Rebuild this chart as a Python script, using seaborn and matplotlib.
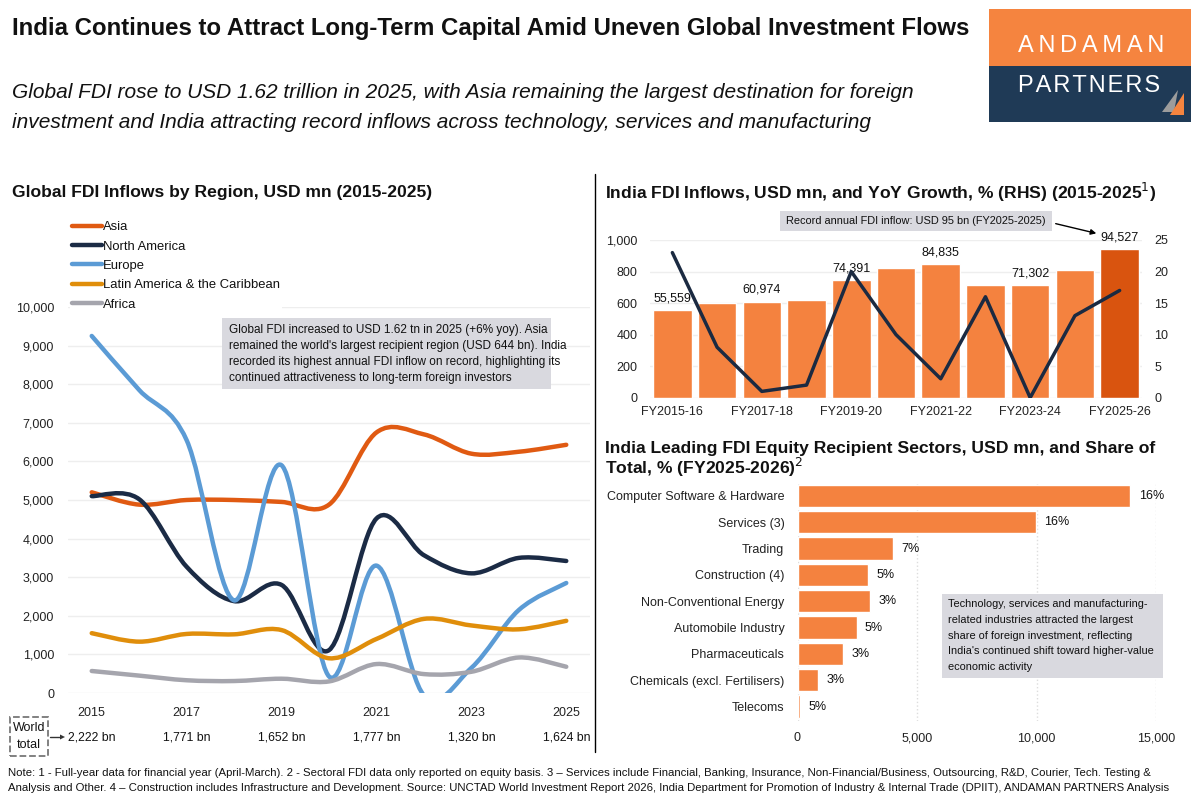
import numpy as np
import pandas as pd
import seaborn as sns
import matplotlib.pyplot as plt
from matplotlib.path import Path
from matplotlib.patches import PathPatch, Rectangle, Polygon
from matplotlib.lines import Line2D
from matplotlib.ticker import FuncFormatter

# ---- dados ----
years = [2015, 2016, 2017, 2018, 2019, 2020, 2021, 2022, 2023, 2024, 2025]
asia = [5200, 4880, 5000, 5000, 4950, 4880, 6750, 6700, 6200, 6250, 6430]
north_america = [5100, 5020, 3270, 2380, 2800, 1110, 4520, 3570, 3100, 3500, 3420]
europe = [9250, 7850, 6550, 2400, 5900, 430, 3300, -60, 650, 2150, 2850]
latin_america = [1550, 1330, 1530, 1520, 1630, 900, 1400, 1920, 1750, 1650, 1870]
africa = [570, 450, 330, 310, 370, 300, 750, 490, 550, 920, 680]
world_years = [2015, 2017, 2019, 2021, 2023, 2025]
world_total = ['2,222 bn', '1,771 bn', '1,652 bn', '1,777 bn', '1,320 bn', '1,624 bn']

fy = ['FY2015-16', 'FY2016-17', 'FY2017-18', 'FY2018-19', 'FY2019-20', 'FY2020-21',
      'FY2021-22', 'FY2022-23', 'FY2023-24', 'FY2024-25', 'FY2025-26']
india_inflows = [55559, 60220, 60974, 62001, 74391, 81973, 84835, 71355, 71302, 81040, 94527]
yoy_growth = [23, 8, 1, 2, 20, 10, 3, 16, 0, 13, 17]
labelled_fy = [0, 2, 4, 6, 8, 10]

sectors = ['Computer Software & Hardware', 'Services (3)', 'Trading', 'Construction (4)',
           'Non-Conventional Energy', 'Automobile Industry', 'Pharmaceuticals',
           'Chemicals (excl. Fertilisers)', 'Telecoms']
sector_values = [13930, 9980, 3980, 2960, 3030, 2470, 1910, 855, 100]
sector_share = ['16%', '16%', '7%', '5%', '3%', '5%', '3%', '3%', '5%']

# ---- cores ----
ORANGE = '#F4823F'
DARK_ORANGE = '#D9540F'
NAVY = '#1B2A41'
BOX = '#D9D9DF'
GRID = '#EEEEEE'
region_colors = {
    'Asia': '#E05A12',
    'North America': '#1B2B45',
    'Europe': '#5B9BD5',
    'Latin America & the Caribbean': '#E08E0B',
    'Africa': '#A5A5AD',
}
regions = {
    'Asia': asia,
    'North America': north_america,
    'Europe': europe,
    'Latin America & the Caribbean': latin_america,
    'Africa': africa,
}

sns.set_theme(style='white')
plt.rcParams['font.family'] = ['Liberation Sans', 'DejaVu Sans']
plt.rcParams['text.color'] = '#111111'
plt.rcParams['xtick.color'] = '#222222'
plt.rcParams['ytick.color'] = '#222222'

TICK = 9.0
W, H = 1200, 800
fig = plt.figure(figsize=(12, 8), dpi=100)


def fx(x):
    return x / W


def fy_(y):
    return 1 - y / H


def ax_rect(x0, y0, x1, y1):
    return [fx(x0), fy_(y1), (x1 - x0) / W, (y1 - y0) / H]


def add_box(x0, y0, x1, y1, color, **kw):
    fig.patches.append(Rectangle((fx(x0), fy_(y1)), (x1 - x0) / W, (y1 - y0) / H,
                                 transform=fig.transFigure, facecolor=color, **kw))


def smooth_path(x, y):
    # curva suavizada (estilo Excel) por segmentos de Bézier
    n = len(x)
    verts = [(x[0], y[0])]
    codes = [Path.MOVETO]
    for i in range(n - 1):
        a = max(i - 1, 0)
        b = min(i + 2, n - 1)
        c1 = (x[i] + (x[i + 1] - x[a]) / 6, y[i] + (y[i + 1] - y[a]) / 6)
        c2 = (x[i + 1] - (x[b] - x[i]) / 6, y[i + 1] - (y[b] - y[i]) / 6)
        verts += [c1, c2, (x[i + 1], y[i + 1])]
        codes += [Path.CURVE4] * 3
    return Path(verts, codes)


# ---- cabeçalho ----
fig.text(fx(12), fy_(28), 'India Continues to Attract Long-Term Capital Amid Uneven Global Investment Flows',
         fontsize=17.3, fontweight='bold', va='center', ha='left')
fig.text(fx(12), fy_(92), 'Global FDI rose to USD 1.62 trillion in 2025, with Asia remaining the largest destination for foreign',
         fontsize=15, style='italic', va='center', ha='left')
fig.text(fx(12), fy_(123), 'investment and India attracting record inflows across technology, services and manufacturing',
         fontsize=15, style='italic', va='center', ha='left')

# logo
add_box(989, 9, 1191, 66, '#F5843F', edgecolor='none')
add_box(989, 66, 1191, 122, '#1F3A56', edgecolor='none')
fig.text(fx(1091), fy_(46), '\u2009'.join('ANDAMAN'), fontsize=17, color='white', ha='center', va='center',
         family=['Liberation Sans', 'DejaVu Sans'])
fig.text(fx(1089), fy_(86), '\u200a'.join('PARTNERS'), fontsize=17, color='white', ha='center', va='center',
         family=['Liberation Sans', 'DejaVu Sans'])
fig.patches.append(Polygon([(fx(1162), fy_(112)), (fx(1178), fy_(90)), (fx(1174), fy_(112))],
                           closed=True, transform=fig.transFigure, facecolor='#9C9C9C', edgecolor='none'))
fig.patches.append(Polygon([(fx(1170), fy_(115)), (fx(1184), fy_(93)), (fx(1184), fy_(115))],
                           closed=True, transform=fig.transFigure, facecolor='#F5843F', edgecolor='none'))

# divisória
fig.add_artist(Line2D([fx(595), fx(595)], [fy_(174), fy_(752)], color='black', lw=1))

# ---- gráfico 1: FDI global por região ----
fig.text(fx(12), fy_(192), 'Global FDI Inflows by Region, USD mn (2015-2025)',
         fontsize=12.6, fontweight='bold', va='center', ha='left')
ax1 = fig.add_axes(ax_rect(68, 307, 590, 693))
ax1.set_xlim(2014.5, 2025.5)
ax1.set_ylim(0, 10000)
ax1.set_yticks(range(0, 10001, 1000))
ax1.yaxis.set_major_formatter(FuncFormatter(lambda v, p: f'{v:,.0f}'))
ax1.set_xticks(world_years)
ax1.tick_params(axis='both', length=0, labelsize=TICK)
ax1.tick_params(axis='y', pad=10)
ax1.tick_params(axis='x', pad=10)
ax1.grid(axis='y', color=GRID, lw=1)
for s in ax1.spines.values():
    s.set_visible(False)
handles = []
for name, vals in regions.items():
    ax1.add_patch(PathPatch(smooth_path(years, vals), facecolor='none', edgecolor=region_colors[name],
                            lw=3.2, capstyle='round', joinstyle='round'))
    handles.append(Line2D([], [], color=region_colors[name], lw=3.2, solid_capstyle='round', label=name))
leg = fig.legend(handles=handles, loc='upper left', bbox_to_anchor=(fx(63), fy_(212)), frameon=True,
                 fontsize=9.4, handlelength=2.3, handletextpad=0.05, labelspacing=0.55, borderpad=0.2)
leg.get_frame().set_edgecolor('none')
leg.get_frame().set_facecolor('white')
leg.get_frame().set_alpha(1)

for yr, lab in zip(world_years, world_total):
    ax1.text(yr, -0.114, lab, transform=ax1.get_xaxis_transform(), ha='center', va='center', fontsize=8.8)

# caixa "World total" tracejada
add_box(10, 717, 48, 756, 'white', edgecolor='#777777', linestyle='--', lw=1.3)
fig.text(fx(29), fy_(728), 'World', fontsize=9, ha='center', va='center')
fig.text(fx(29), fy_(745), 'total', fontsize=9, ha='center', va='center')
fig.add_artist(Line2D([fx(50), fx(60)], [fy_(737), fy_(737)], color='#333333', lw=1))
fig.patches.append(Polygon([(fx(60), fy_(734.5)), (fx(65), fy_(737)), (fx(60), fy_(739.5))], closed=True,
                           transform=fig.transFigure, facecolor='#333333', edgecolor='none'))

add_box(222, 318, 551, 389, BOX, edgecolor='none')
fig.text(fx(229), fy_(324.5),
         "Global FDI increased to USD 1.62 tn in 2025 (+6% yoy). Asia\n"
         "remained the world's largest recipient region (USD 644 bn). India\n"
         "recorded its highest annual FDI inflow on record, highlighting its\n"
         "continued attractiveness to long-term foreign investors",
         fontsize=8.5, ha='left', va='top', linespacing=1.42)

# ---- gráfico 2: FDI Índia ----
fig.text(fx(605), fy_(192), 'India FDI Inflows, USD mn, and YoY Growth, % (RHS) (2015-2025$^1$)',
         fontsize=12.6, fontweight='bold', va='center', ha='left')
ax2 = fig.add_axes(ax_rect(650, 240, 1142, 397.7))
bar_colors = [ORANGE] * (len(fy) - 1) + [DARK_ORANGE]
sns.barplot(x=fy, y=india_inflows, hue=fy, palette=bar_colors, legend=False, width=0.86,
            saturation=1, ax=ax2)
ax2.set_xlim(-0.5, len(fy) - 0.5)
ax2.set_ylim(0, 100000)
ax2.set_yticks(range(0, 100001, 20000))
ax2.yaxis.set_major_formatter(FuncFormatter(lambda v, p: f'{v / 100:,.0f}'))
ax2.set_xticks(labelled_fy)
ax2.set_xticklabels([fy[i] for i in labelled_fy])
ax2.tick_params(axis='both', length=0, labelsize=TICK)
ax2.tick_params(axis='y', pad=9)
ax2.tick_params(axis='x', pad=6)
ax2.grid(axis='y', color=GRID, lw=1)
ax2.set_axisbelow(True)
ax2.set_xlabel('')
ax2.set_ylabel('')
for s in ax2.spines.values():
    s.set_visible(False)
for i in labelled_fy:
    ax2.annotate(f'{india_inflows[i]:,}', (i, india_inflows[i]), xytext=(0, 4), textcoords='offset points',
                 ha='center', va='bottom', fontsize=TICK, annotation_clip=False)

ax2b = ax2.twinx()
sns.lineplot(x=list(range(len(fy))), y=yoy_growth, color=NAVY, lw=2.5, ax=ax2b)
ax2b.set_ylim(0, 25)
ax2b.set_yticks(range(0, 26, 5))
ax2b.tick_params(axis='y', length=0, labelsize=TICK, pad=9)
ax2b.set_ylabel('')
for s in ax2b.spines.values():
    s.set_visible(False)
ax2b.set_xlim(-0.5, len(fy) - 0.5)

add_box(780, 211, 1052, 231, BOX, edgecolor='none')
fig.text(fx(916), fy_(221.5), 'Record annual FDI inflow: USD 95 bn (FY2025-2025)', fontsize=7.9,
         ha='center', va='center')
ax2.annotate('', xy=(fx(1099), fy_(234)), xycoords='figure fraction',
             xytext=(fx(1053), fy_(223)), textcoords='figure fraction',
             arrowprops=dict(arrowstyle='-|>', color='black', lw=1, mutation_scale=8))

# ---- gráfico 3: setores ----
fig.text(fx(605), fy_(460), 'India Leading FDI Equity Recipient Sectors, USD mn, and Share of\nTotal, % (FY2025-2026)$^2$',
         fontsize=12.6, fontweight='bold', va='center', ha='left', linespacing=0.95)
ax3 = fig.add_axes(ax_rect(797.5, 481.5, 1156, 721))
sns.barplot(x=sector_values, y=sectors, orient='h', color=ORANGE, saturation=1, width=0.85, ax=ax3)
ax3.set_xlim(0, 15000)
ax3.set_ylim(len(sectors) - 0.45, -0.55)
ax3.set_xticks(range(0, 15001, 5000))
ax3.xaxis.set_major_formatter(FuncFormatter(lambda v, p: f'{v:,.0f}'))
ax3.tick_params(axis='both', length=0, labelsize=TICK)
ax3.tick_params(axis='y', pad=9.5)
ax3.tick_params(axis='x', pad=8)
ax3.grid(axis='x', color='#DDDDDD', lw=1, linestyle=':')
ax3.set_axisbelow(True)
ax3.set_xlabel('')
ax3.set_ylabel('')
for s in ax3.spines.values():
    s.set_visible(False)
for i, (v, sh) in enumerate(zip(sector_values, sector_share)):
    ax3.annotate(sh, (v, i), xytext=(6, 0), textcoords='offset points', ha='left', va='center',
                 fontsize=TICK, annotation_clip=False)

add_box(942, 594, 1163, 678, BOX, edgecolor='none')
fig.text(fx(948), fy_(599),
         "Technology, services and manufacturing-\n"
         "related industries attracted the largest\n"
         "share of foreign investment, reflecting\n"
         "India's continued shift toward higher-value\n"
         "economic activity",
         fontsize=7.9, ha='left', va='top', linespacing=1.72)

# ---- notas ----
fig.text(fx(8), fy_(773),
         'Note: 1 - Full-year data for financial year (April-March). 2 - Sectoral FDI data only reported on equity basis. '
         '3 \u2013 Services include Financial, Banking, Insurance, Non-Financial/Business, Outsourcing, R&D, Courier, Tech. Testing &',
         fontsize=8.2, ha='left', va='center')
fig.text(fx(8), fy_(788),
         'Analysis and Other. 4 \u2013 Construction includes Infrastructure and Development. Source: UNCTAD World Investment Report 2026, '
         'India Department for Promotion of Industry & Internal Trade (DPIIT), ANDAMAN PARTNERS Analysis',
         fontsize=8.2, ha='left', va='center')

fig.savefig('out.png', dpi=100)
